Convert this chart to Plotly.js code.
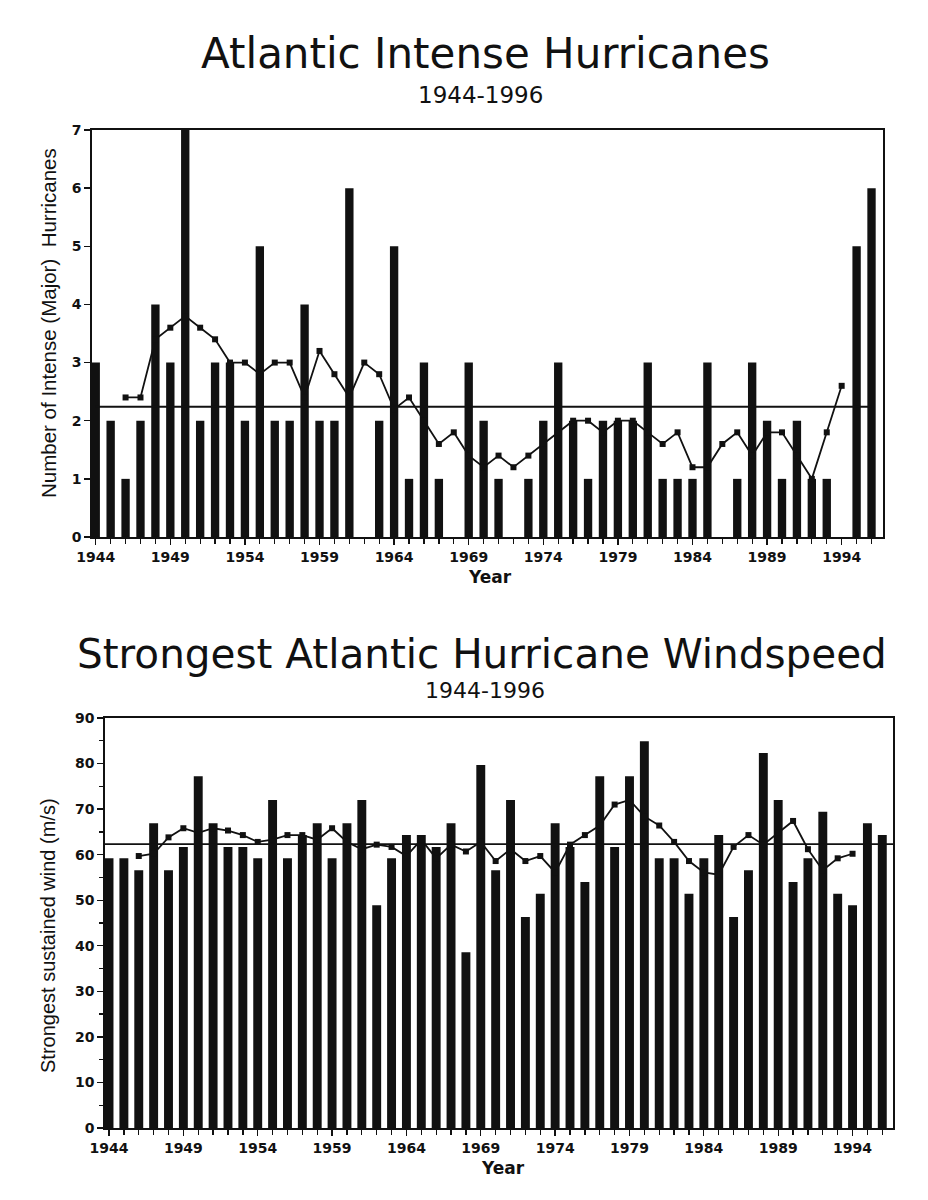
<!DOCTYPE html>
<html>
<head>
<meta charset="utf-8">
<script src="https://cdn.plot.ly/plotly-3.0.1.min.js"></script>
<style>
  html, body { margin: 0; padding: 0; background: #ffffff; }
  #chart { width: 928px; height: 1200px; }
</style>
</head>
<body>
<div id="chart"></div>
<script>
// ---------- DATA ----------
const years = [1944,1945,1946,1947,1948,1949,1950,1951,1952,1953,
               1954,1955,1956,1957,1958,1959,1960,1961,1962,1963,
               1964,1965,1966,1967,1968,1969,1970,1971,1972,1973,
               1974,1975,1976,1977,1978,1979,1980,1981,1982,1983,
               1984,1985,1986,1987,1988,1989,1990,1991,1992,1993,
               1994,1995,1996];

// Top panel: number of intense (major) hurricanes per year
const intenseCounts = [3,2,1,2,4,3,7,2,3,3,
                       2,5,2,2,4,2,2,6,0,2,
                       5,1,3,1,0,3,2,1,0,1,
                       2,3,2,1,2,2,2,3,1,1,
                       1,3,0,1,3,2,1,2,1,1,
                       0,5,6];

// 5-year running mean line (plotted 1946-1994)
const runYears = [1946,1947,1948,1949,1950,1951,1952,1953,1954,1955,
                  1956,1957,1958,1959,1960,1961,1962,1963,1964,1965,
                  1966,1967,1968,1969,1970,1971,1972,1973,1974,1975,
                  1976,1977,1978,1979,1980,1981,1982,1983,1984,1985,
                  1986,1987,1988,1989,1990,1991,1992,1993,1994];
const intenseRunning = [2.4,2.4,3.4,3.6,3.8,3.6,3.4,3.0,3.0,2.8,
                        3.0,3.0,2.4,3.2,2.8,2.4,3.0,2.8,2.2,2.4,
                        2.0,1.6,1.8,1.4,1.2,1.4,1.2,1.4,1.6,1.8,
                        2.0,2.0,1.8,2.0,2.0,1.8,1.6,1.8,1.2,1.2,
                        1.6,1.8,1.4,1.8,1.8,1.4,1.0,1.8,2.6];
const intenseMean = 2.24;

// Bottom panel: strongest sustained wind (m/s) per year
const maxWind = [59.2,59.2,56.6,66.9,56.6,61.7,77.2,66.9,61.7,61.7,
                 59.2,72.0,59.2,64.3,66.9,59.2,66.9,72.0,48.9,59.2,
                 64.3,64.3,61.7,66.9,38.6,79.7,56.6,72.0,46.3,51.4,
                 66.9,61.7,54.0,77.2,61.7,77.2,84.9,59.2,59.2,51.4,
                 59.2,64.3,46.3,56.6,82.3,72.0,54.0,59.2,69.4,51.4,
                 48.9,66.9,64.3];
const windRunning = [59.7,60.2,63.8,65.8,64.8,65.8,65.3,64.3,62.8,63.3,
                     64.3,64.3,63.3,65.8,62.8,61.2,62.2,61.7,59.7,63.3,
                     59.2,62.2,60.7,62.8,58.6,61.2,58.6,59.7,56.1,62.2,
                     64.3,66.4,71.0,72.0,68.4,66.4,62.8,58.6,56.1,55.6,
                     61.7,64.3,62.2,64.8,67.4,61.2,56.6,59.2,60.2];
const windMean = 62.3;

const xTickYears = [1944,1949,1954,1959,1964,1969,1974,1979,1984,1989,1994];
const topYTicks = [0,1,2,3,4,5,6,7];
const botYTicks = [0,10,20,30,40,50,60,70,80,90];

const topTitle = 'Atlantic Intense Hurricanes';
const botTitle = 'Strongest Atlantic Hurricane Windspeed';
const subTitle = '1944-1996';
const topYTitle = 'Number of Intense (Major)\u00a0 Hurricanes';
const botYTitle = 'Strongest sustained wind (m/s)';
const xTitle = 'Year';

// ---------- LAYOUT HELPERS ----------
const W = 928, H = 1200;
const px = v => v / W;          // page x pixel -> paper
const py = v => 1 - v / H;      // page y pixel -> paper

const INK = '#111111';
const tickFont = {family: 'DejaVu Sans', size: 14, color: INK, weight: 'bold'};

const topRange = [1943.75, 1996.77];
const botRange = [1943.73, 1996.72];

const traces = [
  // top panel
  {type: 'scatter', mode: 'lines', x: [years[0], years[years.length-1]],
   y: [intenseMean, intenseMean], xaxis: 'x', yaxis: 'y',
   line: {color: INK, width: 1.8}, hoverinfo: 'skip'},
  {type: 'bar', x: years, y: intenseCounts, xaxis: 'x', yaxis: 'y',
   width: 0.56, marker: {color: INK, line: {width: 0}}},
  {type: 'scatter', mode: 'lines+markers', x: runYears, y: intenseRunning,
   xaxis: 'x', yaxis: 'y', line: {color: INK, width: 1.8},
   marker: {symbol: 'square', size: 6, color: INK}},
  // bottom panel
  {type: 'scatter', mode: 'lines', x: botRange, y: [windMean, windMean],
   xaxis: 'x2', yaxis: 'y2', line: {color: INK, width: 1.8}, hoverinfo: 'skip'},
  {type: 'bar', x: years, y: maxWind, xaxis: 'x2', yaxis: 'y2',
   width: 0.6, marker: {color: INK, line: {width: 0}}},
  {type: 'scatter', mode: 'lines+markers', x: runYears, y: windRunning,
   xaxis: 'x2', yaxis: 'y2', line: {color: INK, width: 1.8},
   marker: {symbol: 'square', size: 6, color: INK}}
];

const axisCommon = {
  showline: true, mirror: true, linecolor: INK, linewidth: 1.8,
  showgrid: false, zeroline: false, ticks: 'outside', tickcolor: INK,
  tickwidth: 1.3, tickfont: tickFont, automargin: false, fixedrange: true
};

const layout = {
  width: W, height: H,
  margin: {l: 0, r: 0, t: 0, b: 0},
  paper_bgcolor: '#ffffff', plot_bgcolor: '#ffffff',
  showlegend: false,
  xaxis: Object.assign({}, axisCommon, {
    domain: [px(92), px(883)], anchor: 'y', range: topRange,
    tickmode: 'array', tickvals: xTickYears, ticktext: xTickYears.map(String),
    ticklen: 6,
    minor: {tickmode: 'linear', tick0: 1944, dtick: 1, ticks: 'outside',
            ticklen: 5, tickcolor: INK, tickwidth: 1.3, showgrid: false}
  }),
  yaxis: Object.assign({}, axisCommon, {
    domain: [py(537), py(130)], anchor: 'x', range: [0, 7],
    tickmode: 'array', tickvals: topYTicks, ticklen: 6
  }),
  xaxis2: Object.assign({}, axisCommon, {
    domain: [px(105), px(893)], anchor: 'y2', range: botRange,
    tickmode: 'array', tickvals: xTickYears, ticktext: xTickYears.map(String),
    ticklen: 6,
    minor: {tickmode: 'linear', tick0: 1944, dtick: 1, ticks: 'outside',
            ticklen: 5, tickcolor: INK, tickwidth: 1.3, showgrid: false}
  }),
  yaxis2: Object.assign({}, axisCommon, {
    domain: [py(1128), py(718)], anchor: 'x2', range: [0, 90],
    tickmode: 'array', tickvals: botYTicks, ticklen: 6,
    minor: {tickmode: 'linear', tick0: 0, dtick: 5, ticks: 'outside',
            ticklen: 4, tickcolor: INK, tickwidth: 1.3, showgrid: false}
  }),
  annotations: [
    {text: topTitle, x: px(486), y: py(53), xref: 'paper', yref: 'paper',
     xanchor: 'center', yanchor: 'middle', showarrow: false,
     font: {family: 'DejaVu Sans', size: 42, color: INK}},
    {text: subTitle, x: px(481), y: py(95), xref: 'paper', yref: 'paper',
     xanchor: 'center', yanchor: 'middle', showarrow: false,
     font: {family: 'DejaVu Sans', size: 23, color: INK}},
    {text: botTitle, x: px(482), y: py(654), xref: 'paper', yref: 'paper',
     xanchor: 'center', yanchor: 'middle', showarrow: false,
     font: {family: 'DejaVu Sans', size: 40.5, color: INK}},
    {text: subTitle, x: px(485), y: py(690), xref: 'paper', yref: 'paper',
     xanchor: 'center', yanchor: 'middle', showarrow: false,
     font: {family: 'DejaVu Sans', size: 22, color: INK}},
    {text: topYTitle, x: px(48), y: py(323), xref: 'paper', yref: 'paper',
     xanchor: 'center', yanchor: 'middle', showarrow: false, textangle: -90,
     font: {family: 'Liberation Sans', size: 20.5, color: INK}},
    {text: botYTitle, x: px(48), y: py(936), xref: 'paper', yref: 'paper',
     xanchor: 'center', yanchor: 'middle', showarrow: false, textangle: -90,
     font: {family: 'Liberation Sans', size: 20, color: INK}},
    {text: xTitle, x: px(490), y: py(577), xref: 'paper', yref: 'paper',
     xanchor: 'center', yanchor: 'middle', showarrow: false,
     font: {family: 'DejaVu Sans', size: 17, color: INK, weight: 'bold'}},
    {text: xTitle, x: px(503), y: py(1168), xref: 'paper', yref: 'paper',
     xanchor: 'center', yanchor: 'middle', showarrow: false,
     font: {family: 'DejaVu Sans', size: 17, color: INK, weight: 'bold'}}
  ]
};

Plotly.newPlot('chart', traces, layout, {displayModeBar: false, staticPlot: true});
</script>
</body>
</html>
